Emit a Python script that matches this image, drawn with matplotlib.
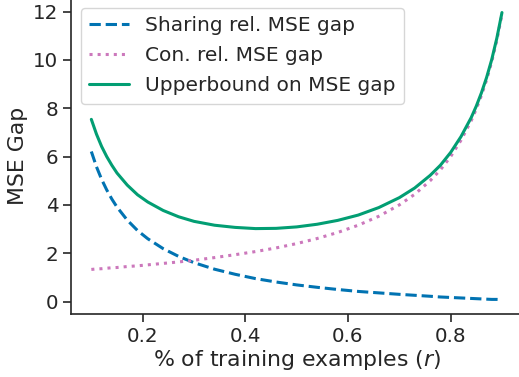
import matplotlib
matplotlib.use("Agg")
import matplotlib.pyplot as plt
import seaborn as sns

r_vals = [0.10, 0.11, 0.12, 0.13, 0.14, 0.15, 0.17, 0.19, 0.21, 0.24, 0.27, 0.30,
          0.34, 0.38, 0.42, 0.46, 0.50, 0.54, 0.58, 0.62, 0.66, 0.70, 0.73, 0.76,
          0.78, 0.80, 0.82, 0.84, 0.85, 0.86, 0.87, 0.88, 0.89, 0.90]
sharing_gap = [6.21, 5.58, 5.06, 4.62, 4.24, 3.91, 3.37, 2.94, 2.60, 2.19, 1.87, 1.61,
               1.34, 1.13, 0.95, 0.81, 0.69, 0.59, 0.50, 0.42, 0.36, 0.30, 0.26, 0.22,
               0.19, 0.17, 0.15, 0.13, 0.12, 0.11, 0.10, 0.09, 0.09, 0.08]
con_gap = [1.33, 1.35, 1.36, 1.38, 1.40, 1.41, 1.45, 1.48, 1.52, 1.58, 1.64, 1.71,
           1.82, 1.94, 2.07, 2.22, 2.40, 2.61, 2.86, 3.16, 3.53, 4.00, 4.44, 5.00,
           5.45, 6.00, 6.67, 7.48, 7.97, 8.53, 9.17, 9.92, 10.81, 11.88]
upper_gap = [7.54, 6.93, 6.42, 6.00, 5.64, 5.32, 4.82, 4.42, 4.12, 3.77, 3.51, 3.32,
             3.16, 3.07, 3.02, 3.03, 3.09, 3.20, 3.36, 3.58, 3.89, 4.30, 4.70, 5.22,
             5.64, 6.17, 6.82, 7.61, 8.09, 8.64, 9.27, 10.01, 10.90, 11.96]

labels = ["Sharing rel. MSE gap", "Con. rel. MSE gap", "Upperbound on MSE gap"]
yticks = [0, 2, 4, 6, 8, 10, 12]
xticks = [0.2, 0.4, 0.6, 0.8]

sns.set_theme(style="ticks")
plt.rcParams['font.family'] = ['DejaVu Sans']

W, H = 519, 377
fig = plt.figure(figsize=(W / 100, H / 100), dpi=100)
left, right, top, bottom = 70.8, 522.5, -1.8, 314.0
ax = fig.add_axes([left / W, 1 - bottom / H, (right - left) / W, (bottom - top) / H])

lw = 2.2
ax.plot(r_vals, sharing_gap, linestyle="--", color="#0173b2", lw=lw, label=labels[0])
ax.plot(r_vals, con_gap, linestyle=":", color="#cc78bc", lw=lw, label=labels[1])
ax.plot(r_vals, upper_gap, linestyle="-", color="#029e73", lw=lw, label=labels[2])

ax.set_yticks(yticks)
ax.set_xticks(xticks)
ax.tick_params(labelsize=14.3, length=6, width=1.2, colors=".15", pad=3)
ax.set_xlabel("% of training examples ($r$)", fontsize=15.8, color=".15", labelpad=2)
ax.set_ylabel("MSE Gap", fontsize=15.8, color=".15", labelpad=3.5)
for s in ["left", "bottom"]:
    ax.spines[s].set_linewidth(1.2)
    ax.spines[s].set_color(".15")
sns.despine(ax=ax)
leg = ax.legend(loc="upper left", fontsize=14.5, frameon=True, handlelength=2.0,
                borderaxespad=0.5, labelspacing=0.55)

fig.savefig("out.png", dpi=100)
